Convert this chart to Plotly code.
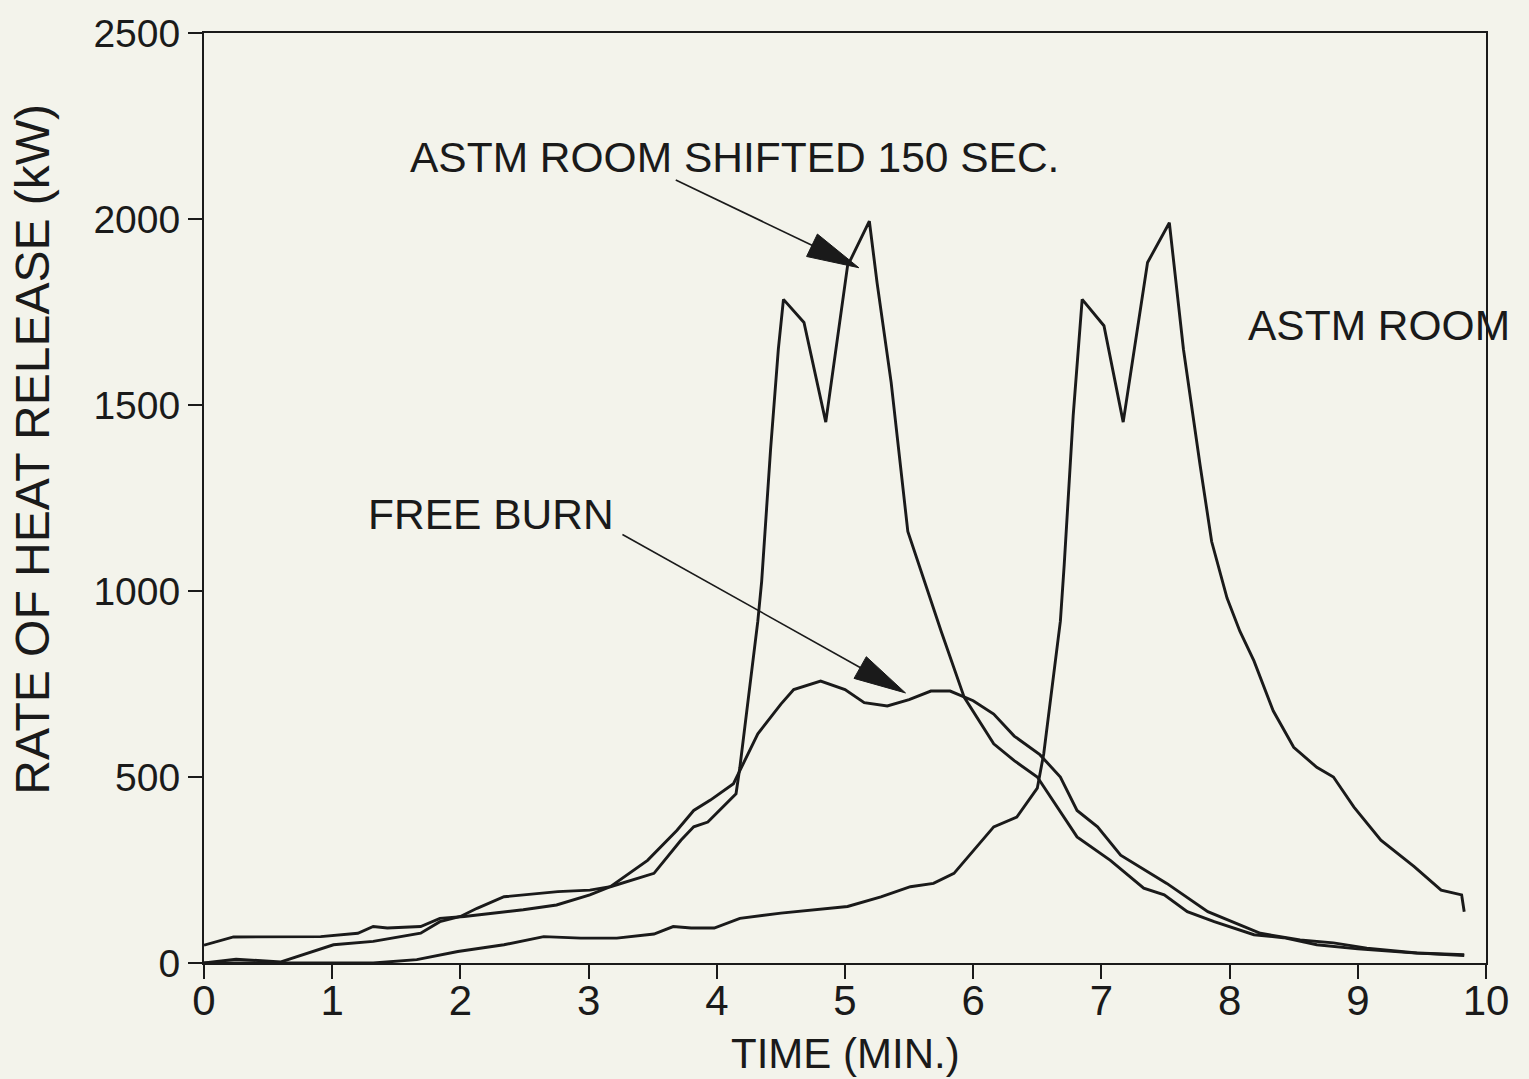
import math
import plotly.graph_objects as go

# ---------------- data ----------------
time_free = [0, 0.25, 0.6, 1.01, 1.32, 1.69, 1.84, 2.0, 2.13, 2.34, 2.76, 3.01, 3.17,
             3.46, 3.69, 3.82, 3.95, 4.13, 4.32, 4.5, 4.6, 4.81, 5.0, 5.15, 5.33, 5.5,
             5.67, 5.82, 6.0, 6.16, 6.32, 6.52, 6.68, 6.81, 6.97, 7.15, 7.51, 7.83,
             8.24, 8.55, 8.81, 9.07, 9.46, 9.83]
kw_free = [0, 10, 3, 49, 58, 80, 111, 125, 147, 178, 192, 196, 205,
           276, 357, 410, 438, 482, 616, 696, 735, 758, 735, 700, 691, 708,
           731, 731, 705, 669, 610, 560, 500, 410, 366, 290, 214, 138,
           80, 62, 54, 40, 27, 22]

time_shifted = [0, 0.23, 0.91, 1.2, 1.32, 1.43, 1.69, 1.84, 2.03, 2.49, 2.75, 3.01, 3.17,
                3.51, 3.72, 3.82, 3.93, 4.05, 4.15, 4.18, 4.24, 4.32, 4.35, 4.42, 4.48,
                4.52, 4.68, 4.85, 5.02, 5.19, 5.25, 5.36, 5.49, 5.62, 5.75, 5.93, 6.16,
                6.32, 6.5, 6.81, 7.07, 7.33, 7.49, 7.67, 7.88, 8.19, 8.42, 8.68, 9.0,
                9.4, 9.83]
kw_shifted = [48, 70, 71, 80, 98, 94, 98, 120, 125, 143, 156, 183, 205,
              241, 330, 366, 379, 419, 455, 526, 696, 919, 1026, 1383, 1650,
              1784, 1722, 1454, 1874, 1994, 1829, 1561, 1160, 1026, 892, 714, 589,
              544, 500, 339, 276, 201, 183, 138, 111, 76, 68, 49, 38,
              28, 20]

time_room = [0, 1.32, 1.66, 1.98, 2.34, 2.65, 2.94, 3.22, 3.51, 3.66, 3.8, 3.98, 4.18,
             4.5, 5.02, 5.28, 5.51, 5.69, 5.85, 6.16, 6.34, 6.5, 6.55, 6.63, 6.68,
             6.71, 6.78, 6.85, 7.02, 7.17, 7.36, 7.53, 7.64, 7.77, 7.86, 7.98, 8.08,
             8.19, 8.34, 8.5, 8.68, 8.81, 8.97, 9.18, 9.44, 9.65, 9.81, 9.83]
kw_room = [0, 0, 9, 31, 49, 71, 67, 67, 78, 98, 94, 94, 120,
           134, 152, 178, 205, 214, 241, 366, 392, 470, 562, 785, 919,
           1071, 1472, 1784, 1713, 1454, 1883, 1990, 1650, 1338, 1133, 981, 892,
           812, 678, 580, 526, 500, 419, 330, 259, 196, 183, 138]

x_ticks = [0, 1, 2, 3, 4, 5, 6, 7, 8, 9, 10]
y_ticks = [0, 500, 1000, 1500, 2000, 2500]

x_title = "TIME (MIN.)"
y_title = "RATE OF HEAT RELEASE (kW)"
label_shifted = "ASTM ROOM SHIFTED 150 SEC."
label_room = "ASTM ROOM"
label_free = "FREE BURN"

# ---------------- layout geometry ----------------
W, H = 1529, 1079
ML, MR, MT, MB = 204, 43, 29, 116
PW = W - ML - MR
PH = H - MT - MB
X_RANGE = (0, 10)
Y_RANGE = (0, 2500)

BG = "#f3f3eb"
INK = "#1a1a1a"
FONT = "Liberation Sans, Arial, Helvetica, sans-serif"


def to_px(x, y):
    px = ML + (x - X_RANGE[0]) / (X_RANGE[1] - X_RANGE[0]) * PW
    py = MT + (1 - (y - Y_RANGE[0]) / (Y_RANGE[1] - Y_RANGE[0])) * PH
    return px, py


def to_data(px, py):
    x = X_RANGE[0] + (px - ML) / PW * (X_RANGE[1] - X_RANGE[0])
    y = Y_RANGE[0] + (1 - (py - MT) / PH) * (Y_RANGE[1] - Y_RANGE[0])
    return x, y


def arrow_shapes(tail, tip, head_len=52, head_w=25, width=1.6):
    tx, ty = to_px(*tail)
    hx, hy = to_px(*tip)
    dx, dy = hx - tx, hy - ty
    d = math.hypot(dx, dy)
    ux, uy = dx / d, dy / d
    bx, by = hx - head_len * ux, hy - head_len * uy
    nx, ny = -uy, ux
    c1 = to_data(bx + nx * head_w / 2, by + ny * head_w / 2)
    c2 = to_data(bx - nx * head_w / 2, by - ny * head_w / 2)
    back = to_data(bx + 4 * ux, by + 4 * uy)
    shaft = dict(type="line", xref="x", yref="y", x0=tail[0], y0=tail[1],
                 x1=back[0], y1=back[1], line=dict(color=INK, width=width))
    head = dict(type="path", xref="x", yref="y",
                path=f"M {tip[0]},{tip[1]} L {c1[0]},{c1[1]} L {c2[0]},{c2[1]} Z",
                fillcolor=INK, line=dict(color=INK, width=1))
    return [shaft, head]


fig = go.Figure()
line_style = dict(color=INK, width=2.9)
fig.add_trace(go.Scatter(x=time_free, y=kw_free, mode="lines", line=line_style,
                         name=label_free, showlegend=False))
fig.add_trace(go.Scatter(x=time_shifted, y=kw_shifted, mode="lines", line=line_style,
                         name=label_shifted, showlegend=False))
fig.add_trace(go.Scatter(x=time_room, y=kw_room, mode="lines", line=line_style,
                         name=label_room, showlegend=False))

shapes = []
shapes += arrow_shapes((3.68, 2105), (5.108, 1869))
shapes += arrow_shapes((3.264, 1152), (5.472, 726))

lab_font = dict(size=42.5, color=INK, family=FONT)
annotations = [
    dict(text=label_shifted, x=1.59, y=2164, xref="x", yref="y", xanchor="left",
         yanchor="middle", showarrow=False, font=lab_font),
    dict(text=label_room, x=8.13, y=1713, xref="x", yref="y", xanchor="left",
         yanchor="middle", showarrow=False, font=lab_font),
    dict(text=label_free, x=1.26, y=1205, xref="x", yref="y", xanchor="left",
         yanchor="middle", showarrow=False, font=lab_font),
    dict(text=y_title, x=-0.1334, y=0.553, xref="paper", yref="paper", xanchor="center",
         yanchor="middle", textangle=-90, showarrow=False,
         font=dict(size=48, color=INK, family=FONT)),
    dict(text=x_title, x=0.5, y=0, xref="paper", yref="paper", xanchor="center",
         yanchor="middle", yshift=-90, showarrow=False,
         font=dict(size=42, color=INK, family=FONT)),
]

fig.update_layout(
    width=W, height=H,
    margin=dict(l=ML, r=MR, t=MT, b=MB, pad=0),
    paper_bgcolor=BG, plot_bgcolor=BG,
    font=dict(family=FONT, color=INK),
    shapes=shapes,
    annotations=annotations,
    showlegend=False,
)
fig.update_xaxes(range=list(X_RANGE), tickvals=x_ticks, ticktext=[str(v) for v in x_ticks],
                 ticks="outside", ticklen=14, tickwidth=2, tickcolor=INK,
                 ticklabelstandoff=-14,
                 showline=True, linecolor=INK, linewidth=2, mirror=True,
                 showgrid=False, zeroline=False,
                 tickfont=dict(size=42, color=INK, family=FONT))
fig.update_yaxes(range=list(Y_RANGE), tickvals=y_ticks, ticktext=[str(v) for v in y_ticks],
                 ticks="outside", ticklen=14, tickwidth=2, tickcolor=INK,
                 showline=True, linecolor=INK, linewidth=2, mirror=True,
                 showgrid=False, zeroline=False,
                 tickfont=dict(size=39, color=INK, family=FONT))

fig.write_html("out.html")
